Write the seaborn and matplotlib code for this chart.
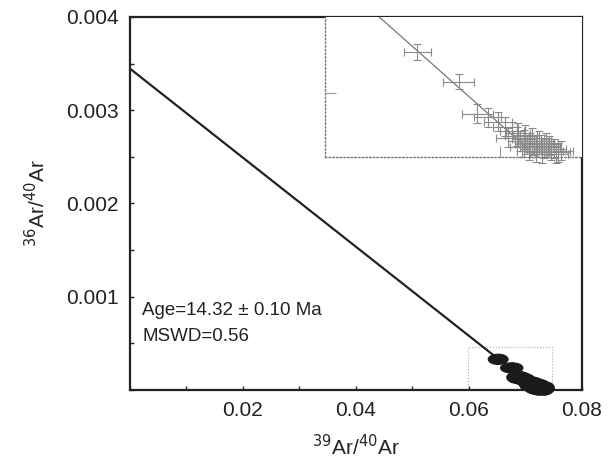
import numpy as np
import matplotlib
matplotlib.use("Agg")
import matplotlib.pyplot as plt
import seaborn as sns
from matplotlib.patches import Rectangle, Ellipse
from matplotlib.ticker import MultipleLocator, FixedLocator, NullFormatter

# isochron fit
intercept = 0.00345
slope = -0.0478
line_x = [0.0, 0.0722]
age_text = "Age=14.32 \u00b1 0.10 Ma"
mswd_text = "MSWD=0.56"

# step data: 39Ar/40Ar, 36Ar/40Ar and 1 sigma errors
ar39_40 = [0.0652, 0.0676, 0.0687, 0.0693, 0.0699, 0.0703, 0.0707, 0.0705,
           0.0710, 0.0712, 0.0714, 0.0716, 0.0718, 0.0720, 0.0722, 0.0724,
           0.0726, 0.0728, 0.0730, 0.0732, 0.0734, 0.0713, 0.0717, 0.0721,
           0.0725, 0.0729, 0.0733, 0.0736, 0.0719, 0.0723, 0.0727, 0.0711,
           0.0715]
ar36_40 = [0.000329, 0.000237, 0.000135, 0.000125, 0.000110, 0.000095,
           0.000080, 0.000060, 0.000065, 0.000050, 0.000055, 0.000040,
           0.000045, 0.000035, 0.000030, 0.000040, 0.000025, 0.000030,
           0.000020, 0.000025, 0.000015, 0.000030, 0.000020, 0.000015,
           0.000010, 0.000035, 0.000010, 0.000020, 0.000060, 0.000050,
           0.000045, 0.000075, 0.000070]
err_x = [0.0008, 0.0009, 0.0009, 0.0008, 0.0008, 0.0007, 0.0007, 0.0007,
         0.0007, 0.0007, 0.0007, 0.0007, 0.0007, 0.0007, 0.0007, 0.0007,
         0.0007, 0.0007, 0.0007, 0.0007, 0.0007, 0.0007, 0.0007, 0.0007,
         0.0007, 0.0007, 0.0007, 0.0007, 0.0007, 0.0007, 0.0007, 0.0007,
         0.0007]
err_y = [0.000025, 0.000025, 0.000030, 0.000030, 0.000030, 0.000030,
         0.000030, 0.000030, 0.000030, 0.000030, 0.000030, 0.000030,
         0.000030, 0.000030, 0.000030, 0.000030, 0.000030, 0.000030,
         0.000030, 0.000030, 0.000030, 0.000030, 0.000030, 0.000030,
         0.000030, 0.000030, 0.000030, 0.000030, 0.000030, 0.000030,
         0.000030, 0.000030, 0.000030]

zoom_x = (0.0598, 0.0748)
zoom_y = (0.0, 0.00046)
sigma_scale = 2.2  # error ellipses in main panel

sns.set_theme(style="ticks")
plt.rcParams['font.family'] = ['Liberation Sans', 'DejaVu Sans']

line_y = [intercept + slope * v for v in line_x]

fig = plt.figure(figsize=(6.08, 4.68), dpi=100)
ax = fig.add_axes([0.213, 0.1667, 0.744, 0.797])

sns.lineplot(x=line_x, y=line_y, ax=ax, color="#222222", lw=1.6)
for x, y, sx, sy in zip(ar39_40, ar36_40, err_x, err_y):
    ax.add_patch(Ellipse((x, y), 2 * sigma_scale * sx, 2 * sigma_scale * sy,
                         fc="#1a1a1a", ec="#1a1a1a", lw=0.8, clip_on=False,
                         zorder=3))

ax.add_patch(Rectangle((zoom_x[0], zoom_y[0]), zoom_x[1] - zoom_x[0],
                       zoom_y[1] - zoom_y[0], fill=False, ec="#aaaaaa",
                       lw=0.8, ls=":"))

ax.set_xlim(0, 0.08)
ax.set_ylim(0, 0.004)
ax.xaxis.set_major_locator(FixedLocator([0.02, 0.04, 0.06, 0.08]))
ax.xaxis.set_minor_locator(MultipleLocator(0.01))
ax.yaxis.set_major_locator(FixedLocator([0.001, 0.002, 0.003, 0.004]))
ax.yaxis.set_minor_locator(MultipleLocator(0.0005))
ax.tick_params(which="both", direction="in", length=3, width=1, labelsize=15,
               colors="#222222", pad=8)
for s in ax.spines.values():
    s.set_linewidth(1.6)
    s.set_color("#222222")

ax.set_xlabel(r"$^{39}$Ar/$^{40}$Ar", fontsize=15, labelpad=10)
ax.set_ylabel(r"$^{36}$Ar/$^{40}$Ar", fontsize=15, labelpad=12)

ax.text(0.028, 0.2, age_text, transform=ax.transAxes, fontsize=13.5,
        color="#222222")
ax.text(0.028, 0.13, mswd_text, transform=ax.transAxes, fontsize=13.5,
        color="#222222")

# enlarged view of the cluster
ins = ax.inset_axes([0.432, 0.625, 0.568, 0.375])
ins.set_facecolor("white")
sns.lineplot(x=line_x, y=line_y, ax=ins, color="#777777", lw=0.9)
ins.errorbar(ar39_40, ar36_40, xerr=err_x, yerr=err_y, fmt="none",
             ecolor="#8a8a8a", elinewidth=0.8, capsize=3, capthick=0.8,
             clip_on=False)
ins.set_xlim(*zoom_x)
ins.set_ylim(0, 0.00044)
ins.xaxis.set_major_locator(FixedLocator([0.07]))
ins.yaxis.set_major_locator(FixedLocator([0.0002]))
ins.xaxis.set_major_formatter(NullFormatter())
ins.yaxis.set_major_formatter(NullFormatter())
ins.tick_params(direction="in", length=8, width=0.8, colors="#999999")
ins.spines["top"].set_visible(False)
ins.spines["right"].set_visible(False)
for k in ("left", "bottom"):
    ins.spines[k].set_linestyle(":")
    ins.spines[k].set_color("#777777")
    ins.spines[k].set_linewidth(1.0)

fig.savefig("out.png", dpi=100)
